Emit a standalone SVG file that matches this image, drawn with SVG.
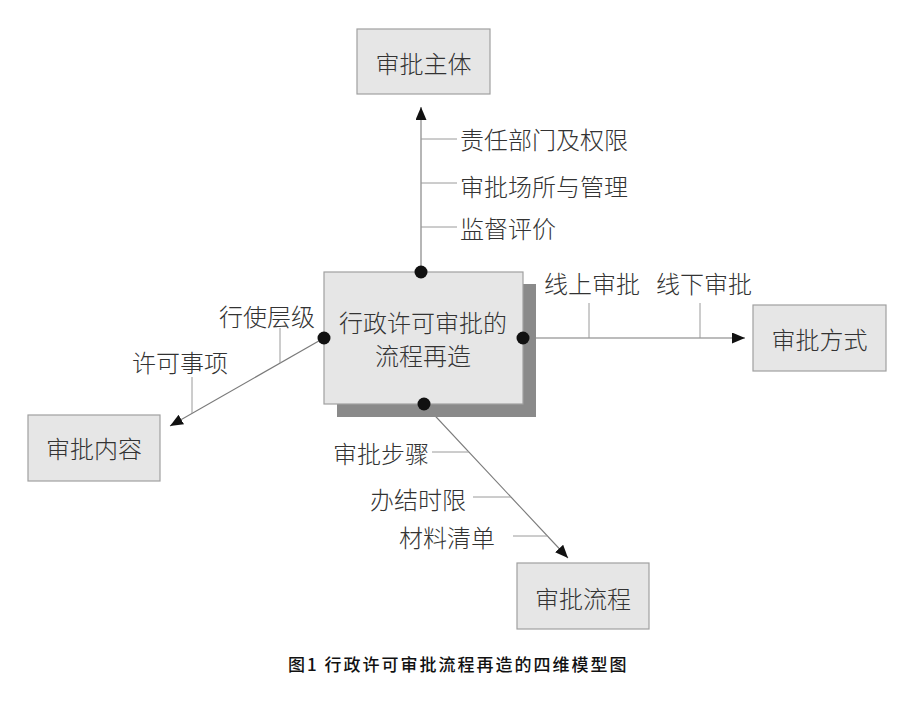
<svg xmlns="http://www.w3.org/2000/svg" width="921" height="704" viewBox="0 0 921 704">
<style>
.box{fill:#e6e6e6;stroke:#a0a0a0;stroke-width:1.2}
.t{font-family:"Noto Sans CJK SC","Noto Sans",sans-serif;font-size:24px;font-weight:300;fill:#333;dominant-baseline:central}
.c{text-anchor:middle}
.conn{stroke:#7a7a7a;stroke-width:1.1;fill:none}
.tick{stroke:#9a9a9a;stroke-width:1;fill:none}
.dot{fill:#111}
.cap{font-family:"Noto Sans CJK SC","Noto Sans",sans-serif;font-size:17px;font-weight:500;fill:#111;letter-spacing:2px;dominant-baseline:central}
</style>
<defs>
<marker id="arr" markerUnits="userSpaceOnUse" markerWidth="13" markerHeight="11" refX="13" refY="5.5" orient="auto">
<path d="M0,0 L13,5.5 L0,11 z" fill="#111"/>
</marker>
</defs>
<rect width="921" height="704" fill="#fff"/>

<g id="connectors">
<line class="conn" x1="421" y1="272" x2="421" y2="107" marker-end="url(#arr)"/>
<line class="conn" x1="324" y1="338" x2="170" y2="426" marker-end="url(#arr)"/>
<line class="conn" x1="424" y1="404" x2="568" y2="558" marker-end="url(#arr)"/>
<line class="conn" x1="523" y1="338" x2="745" y2="338" marker-end="url(#arr)"/>
<line class="tick" x1="421" y1="139" x2="457" y2="139"/>
<line class="tick" x1="421" y1="183" x2="457" y2="183"/>
<line class="tick" x1="421" y1="227" x2="457" y2="227"/>
<line class="tick" x1="280" y1="328" x2="280" y2="363"/>
<line class="tick" x1="192" y1="377" x2="192" y2="413"/>
<line class="tick" x1="432" y1="452" x2="469" y2="452"/>
<line class="tick" x1="473" y1="497" x2="511" y2="497"/>
<line class="tick" x1="513" y1="536" x2="548" y2="536"/>
<line class="tick" x1="589" y1="303" x2="589" y2="338"/>
<line class="tick" x1="700" y1="303" x2="700" y2="338"/>
<text class="t" x="460" y="138">责任部门及权限</text>
<text class="t" x="460" y="185">审批场所与管理</text>
<text class="t" x="460" y="227">监督评价</text>
<text class="t" x="219" y="315">行使层级</text>
<text class="t" x="132" y="361">许可事项</text>
<text class="t" x="333" y="452">审批步骤</text>
<text class="t" x="370" y="498">办结时限</text>
<text class="t" x="399" y="536">材料清单</text>
<text class="t" x="544" y="282">线上审批</text>
<text class="t" x="656" y="282">线下审批</text>
</g>

<g id="center">
<rect x="337" y="284" width="199" height="133" fill="#8a8a8a"/>
<rect class="box" x="324" y="272" width="199" height="132"/>
<text class="t c" x="423" y="321">行政许可审批的</text>
<text class="t c" x="423" y="354">流程再造</text>
<circle class="dot" cx="421" cy="272" r="6.5"/>
<circle class="dot" cx="324" cy="338" r="6.5"/>
<circle class="dot" cx="523" cy="338" r="6.5"/>
<circle class="dot" cx="424" cy="404" r="6.5"/>
</g>

<g id="n-subject">
<rect class="box" x="357" y="29" width="133" height="65"/>
<text class="t c" x="423.5" y="62">审批主体</text>
</g>
<g id="n-content">
<rect class="box" x="28" y="415" width="132" height="66"/>
<text class="t c" x="94" y="447">审批内容</text>
</g>
<g id="n-process">
<rect class="box" x="517" y="563" width="132" height="66"/>
<text class="t c" x="583" y="597">审批流程</text>
</g>
<g id="n-mode">
<rect class="box" x="753" y="305" width="133" height="66"/>
<text class="t c" x="819.5" y="338">审批方式</text>
</g>

<text class="cap" x="288" y="663">图1 行政许可审批流程再造的四维模型图</text>
</svg>
